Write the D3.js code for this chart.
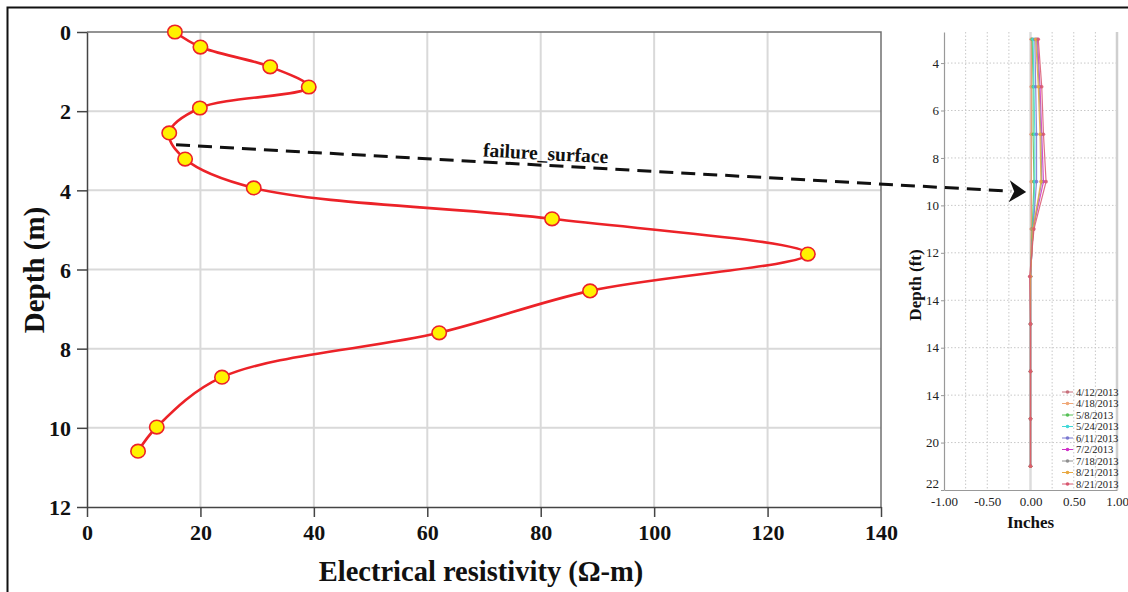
<!DOCTYPE html>
<html><head><meta charset="utf-8">
<script src="https://cdn.jsdelivr.net/npm/d3@7"></script>
<style>body{margin:0;background:#fff}svg{display:block}</style>
</head><body><svg id="c" width="1128" height="592"></svg>
<script>
// ---- main chart data ----
const resistivity = [15.5, 20, 32.3, 39.1, 19.9, 14.5, 17.3, 29.4, 82, 127.1, 88.7, 62.1, 23.8, 12.3, 9];
const depthM      = [0, 0.38, 0.88, 1.39, 1.92, 2.55, 3.21, 3.94, 4.72, 5.61, 6.54, 7.6, 8.72, 9.98, 10.59];
const xTicks = [0, 20, 40, 60, 80, 100, 120, 140];
const yTicks = [0, 2, 4, 6, 8, 10, 12];

// ---- inset (inclinometer) data ----
const insetDepthFt = [3, 5, 7, 9, 11, 13, 15, 17, 19, 21];
const insetDates = ["4/12/2013", "4/18/2013", "5/8/2013", "5/24/2013", "6/11/2013", "7/2/2013", "7/18/2013", "8/21/2013", "8/21/2013"];
const insetColors = ["#c8707c", "#f0a878", "#58c058", "#40d8d8", "#7a78d0", "#d030c8", "#909090", "#e8a840", "#d85870"];
const d0412 = [0.01, 0.01, 0.01, 0.01, 0.01, 0.0, 0.0, 0.0, 0.0, 0.0];
const d0418 = [0.01, 0.01, 0.01, 0.01, 0.01, 0.0, 0.0, 0.0, 0.0, 0.0];
const d0508 = [0.02, 0.03, 0.03, 0.04, 0.02, 0.0, 0.0, 0.0, 0.0, 0.0];
const d0524 = [0.03, 0.04, 0.05, 0.05, 0.03, 0.0, 0.0, 0.0, 0.0, 0.0];
const d0611 = [0.05, 0.06, 0.07, 0.07, 0.03, 0.0, 0.0, 0.0, 0.0, 0.0];
const d0702 = [0.08, 0.11, 0.13, 0.15, 0.03, 0.0, 0.0, 0.0, 0.0, 0.0];
const d0718 = [0.07, 0.10, 0.12, 0.13, 0.03, 0.0, 0.0, 0.0, 0.0, 0.0];
const d0821a = [0.06, 0.09, 0.11, 0.12, 0.03, 0.0, 0.0, 0.0, 0.0, 0.0];
const d0821b = [0.09, 0.13, 0.15, 0.18, 0.04, -0.01, 0.0, 0.0, 0.0, 0.0];
const insetSeries = [d0412, d0418, d0508, d0524, d0611, d0702, d0718, d0821a, d0821b];
const insetYTickValues = [4, 6, 8, 10, 12, 14, 16, 18, 20, 22];
const insetYTickLabels = ["4", "6", "8", "10", "12", "14", "14", "14", "20", "22"];
const insetXTicks = [-1, -0.5, 0, 0.5, 1];
const insetXTickLabels = ["-1.00", "-0.50", "0.00", "0.50", "1.00"];
const insetGridX = [-0.75, -0.5, -0.25, 0.25, 0.5, 0.75];

// ---- annotation (data coords) ----
const arrowStart = [15.7, 2.85];     // main chart (resistivity, depth m)
const arrowEnd = [-0.05, 9.44];      // inset (inches, depth ft)
const labelPos = [80.8, 3.23];
const labelText = "failure_surface";

const svg = d3.select("#c");
const serif = "'Liberation Serif','Times New Roman',serif";

// outer frame
svg.append("path").attr("d", "M7.5,600 L7.5,7.5 L1140,7.5").attr("fill", "none").attr("stroke", "#111").attr("stroke-width", 2);

const x = d3.scaleLinear([0, 140], [87, 881]);
const y = d3.scaleLinear([0, 12], [32, 507]);

const g = svg.append("g");
// grid
g.selectAll(".gx").data(xTicks.slice(1, -1)).join("line")
  .attr("x1", d => x(d)).attr("x2", d => x(d)).attr("y1", y(0)).attr("y2", y(12))
  .attr("stroke", "#d9d9d9").attr("stroke-width", 2);
g.selectAll(".gy").data(yTicks.slice(1, -1)).join("line")
  .attr("y1", d => y(d)).attr("y2", d => y(d)).attr("x1", x(0)).attr("x2", x(140))
  .attr("stroke", "#d9d9d9").attr("stroke-width", 2);
// top/right frame
g.append("path").attr("d", `M${x(0)},${y(0)} H${x(140)} V${y(12)}`).attr("fill", "none").attr("stroke", "#707070").attr("stroke-width", 1.5);

// axes
const xAxis = g.append("g").attr("transform", `translate(0,${y(12)})`)
  .call(d3.axisBottom(x).tickValues(xTicks).tickSize(10).tickPadding(6).tickSizeOuter(0));
const yAxis = g.append("g").attr("transform", `translate(${x(0)},0)`)
  .call(d3.axisLeft(y).tickValues(yTicks).tickSize(10).tickPadding(6).tickSizeOuter(0));
[xAxis, yAxis].forEach(a => {
  a.select(".domain").attr("stroke", "#444").attr("stroke-width", 1.5);
  a.selectAll(".tick line").attr("stroke", "#444").attr("stroke-width", 1.5);
  a.selectAll("text").attr("font-family", serif).attr("font-weight", "bold").attr("font-size", 22).attr("fill", "#111");
});
xAxis.selectAll("text").attr("dy", "0.75em");
yAxis.selectAll("text").attr("dy", "0.35em");

// axis titles
svg.append("text").attr("x", 481).attr("y", 581).attr("text-anchor", "middle")
  .attr("font-family", serif).attr("font-weight", "bold").attr("font-size", 28.5).attr("fill", "#111")
  .text("Electrical resistivity (Ω-m)");
svg.append("text").attr("transform", "translate(44,270) rotate(-90)").attr("text-anchor", "middle")
  .attr("font-family", serif).attr("font-weight", "bold").attr("font-size", 29).attr("fill", "#111")
  .text("Depth (m)");

// curve
const pts = resistivity.map((r, i) => [r, depthM[i]]);
g.append("path").datum(pts)
  .attr("d", d3.line().x(d => x(d[0])).y(d => y(d[1])).curve(d3.curveCatmullRom.alpha(0.5)))
  .attr("fill", "none").attr("stroke", "#ec2228").attr("stroke-width", 2.6);
g.selectAll(".pt").data(pts).join("ellipse")
  .attr("cx", d => x(d[0])).attr("cy", d => y(d[1])).attr("rx", 7.2).attr("ry", 6.8)
  .attr("fill", "#fff200").attr("stroke", "#ec2228").attr("stroke-width", 1.6);

// ---- inset ----
const xi = d3.scaleLinear([-1, 1], [944, 1117]);
const yi = d3.scaleLinear([2.69, 22], [32, 490]);
const gi = svg.append("g");
gi.selectAll(".igx").data(insetGridX).join("line")
  .attr("x1", d => xi(d)).attr("x2", d => xi(d)).attr("y1", yi(2.69)).attr("y2", yi(22))
  .attr("stroke", "#c8c8c8").attr("stroke-width", 1).attr("stroke-dasharray", "1.5,2");
gi.selectAll(".igy").data(insetYTickValues.slice(0, -1)).join("line")
  .attr("y1", d => yi(d)).attr("y2", d => yi(d)).attr("x1", xi(-1)).attr("x2", xi(1))
  .attr("stroke", "#c8c8c8").attr("stroke-width", 1).attr("stroke-dasharray", "1.5,2");
gi.append("line").attr("x1", xi(0)).attr("x2", xi(0)).attr("y1", yi(2.69)).attr("y2", yi(22))
  .attr("stroke", "#dcdcdc").attr("stroke-width", 2.5);
gi.append("line").attr("x1", xi(1)).attr("x2", xi(1)).attr("y1", yi(2.69)).attr("y2", yi(22))
  .attr("stroke", "#cfcfcf").attr("stroke-width", 2.5);

const iyAxis = gi.append("g").attr("transform", `translate(${xi(-1)},0)`)
  .call(d3.axisLeft(yi).tickValues(insetYTickValues).tickFormat((d, i) => insetYTickLabels[i]).tickSize(3).tickPadding(2).tickSizeOuter(0));
const ixAxis = gi.append("g").attr("transform", `translate(0,${yi(22)})`)
  .call(d3.axisBottom(xi).tickValues(insetXTicks).tickFormat((d, i) => insetXTickLabels[i]).tickSize(0).tickPadding(4).tickSizeOuter(0));
[iyAxis, ixAxis].forEach(a => {
  a.select(".domain").attr("stroke", "#999").attr("stroke-width", 1.2);
  a.selectAll(".tick line").attr("stroke", "#999");
  a.selectAll("text").attr("font-family", serif).attr("font-size", 13).attr("fill", "#222");
});
ixAxis.selectAll("text").attr("dy", "0.95em");
iyAxis.selectAll(".tick").filter(d => d === 22).select("text").attr("dy", "-0.22em");

gi.append("text").attr("x", xi(0)).attr("y", 528).attr("text-anchor", "middle")
  .attr("font-family", serif).attr("font-weight", "bold").attr("font-size", 17).attr("fill", "#111").text("Inches");
gi.append("text").attr("transform", "translate(921,285) rotate(-90)").attr("text-anchor", "middle")
  .attr("font-family", serif).attr("font-weight", "bold").attr("font-size", 17).attr("fill", "#111").text("Depth (ft)");

const iline = d3.line().x(d => xi(d[0])).y(d => yi(d[1]));
insetSeries.forEach((vals, k) => {
  const p = vals.map((v, i) => [v, insetDepthFt[i]]);
  gi.append("path").datum(p).attr("d", iline).attr("fill", "none")
    .attr("stroke", insetColors[k]).attr("stroke-width", 1.2).attr("opacity", 0.85);
  gi.selectAll(null).data(p).join("circle").attr("cx", d => xi(d[0])).attr("cy", d => yi(d[1])).attr("r", 1.8)
    .attr("fill", insetColors[k]).attr("opacity", 0.85);
});

// legend
const lg = gi.append("g");
insetDates.forEach((dt, k) => {
  const ly = 392 + k * 11.5;
  lg.append("line").attr("x1", 1062).attr("x2", 1073).attr("y1", ly).attr("y2", ly).attr("stroke", insetColors[k]).attr("stroke-width", 1);
  lg.append("circle").attr("cx", 1067.5).attr("cy", ly).attr("r", 1.8).attr("fill", insetColors[k]);
  lg.append("text").attr("x", 1076).attr("y", ly + 3.6).attr("font-family", serif).attr("font-size", 10.5).attr("fill", "#222").text(dt);
});

// ---- annotation arrow ----
const sx = x(arrowStart[0]), sy = y(arrowStart[1]);
const ex = xi(arrowEnd[0]), ey = yi(arrowEnd[1]);
const ang = Math.atan2(ey - sy, ex - sx);
const L = 15;
svg.append("line").attr("x1", sx).attr("y1", sy)
  .attr("x2", ex - L * Math.cos(ang)).attr("y2", ey - L * Math.sin(ang))
  .attr("stroke", "#111").attr("stroke-width", 3).attr("stroke-dasharray", "14,8");
svg.append("path").attr("d", "M0,0 L-17,-11 L-12,0 L-17,11 Z")
  .attr("transform", `translate(${ex},${ey}) rotate(${ang * 180 / Math.PI})`).attr("fill", "#111");
svg.append("text").attr("transform", `translate(${x(labelPos[0])},${y(labelPos[1])}) rotate(${ang * 180 / Math.PI})`)
  .attr("text-anchor", "middle").attr("font-family", serif).attr("font-weight", "bold").attr("font-size", 19.5).attr("fill", "#111")
  .text(labelText);
</script></body></html>
